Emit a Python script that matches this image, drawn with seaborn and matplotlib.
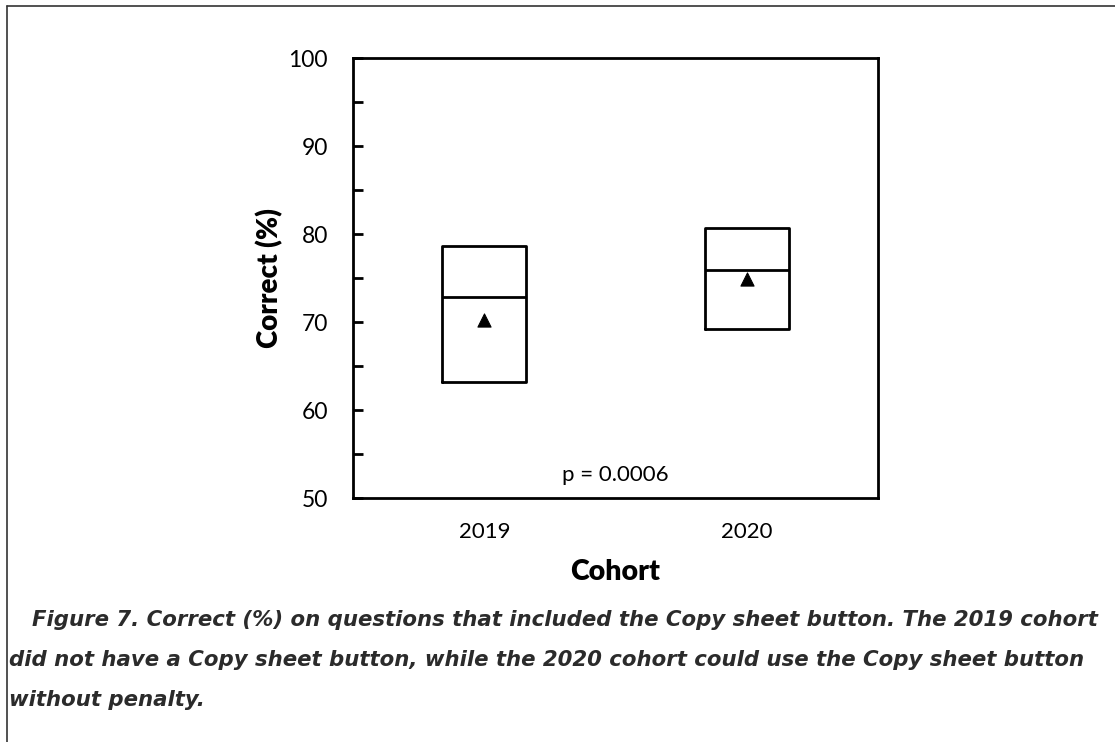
import matplotlib
matplotlib.use("Agg")
import matplotlib.pyplot as plt
from matplotlib.lines import Line2D
from matplotlib.ticker import MultipleLocator
import seaborn as sns
import pandas as pd

# values
cohorts = ["2019", "2020"]
q1 = [63.2, 69.2]
median = [72.8, 75.9]
q3 = [78.6, 80.7]
mean = [70.2, 74.9]
p_text = "p = 0.0006"
caption_lines = [
    "Figure 7. Correct (%) on questions that included the Copy sheet button. The 2019 cohort",
    "did not have a Copy sheet button, while the 2020 cohort could use the Copy sheet button",
    "without penalty.",
]

sns.set_style("white")
plt.rcParams["font.family"] = ["Lato", "DejaVu Sans"]
plt.rcParams["text.color"] = "black"
plt.rcParams["axes.labelcolor"] = "black"
plt.rcParams["xtick.color"] = "black"
plt.rcParams["ytick.color"] = "black"

# five points per cohort give exactly q1 / median / q3 to the box drawing
rows = []
for c, a, m, b in zip(cohorts, q1, median, q3):
    for v in (a, a, m, b, b):
        rows.append({"Cohort": c, "Correct": v})
df = pd.DataFrame(rows)
df_mean = pd.DataFrame({"Cohort": cohorts, "Correct": mean})

fig = plt.figure(figsize=(11.15, 7.42), dpi=100)
ax = fig.add_axes([0.3166, 0.3288, 0.4709, 0.593])

line_kw = dict(color="black", linewidth=2)
sns.boxplot(data=df, x="Cohort", y="Correct", order=cohorts, whis=0, width=0.32,
            showcaps=False, showfliers=False, fill=False, color="black",
            boxprops=line_kw, medianprops=line_kw,
            whiskerprops=dict(linewidth=0), ax=ax)
sns.scatterplot(data=df_mean, x="Cohort", y="Correct", marker="^", s=90,
                color="black", edgecolor="black", ax=ax, zorder=5)

ax.set_xlim(-0.5, 1.5)
ax.set_ylim(50, 100)
ax.yaxis.set_major_locator(MultipleLocator(10))
ax.yaxis.set_minor_locator(MultipleLocator(5))
ax.tick_params(axis="y", which="both", direction="in", length=7, width=2,
               left=True, labelsize=16.5, pad=18, colors="black")
ax.tick_params(axis="x", bottom=False, labelsize=16, pad=14, colors="black")
for s in ax.spines.values():
    s.set_visible(True)
    s.set_linewidth(2)
    s.set_color("black")

ax.set_xlabel("Cohort", fontsize=20.5, fontweight="heavy", labelpad=12)
ax.set_ylabel("Correct (%)", fontsize=20, fontweight="heavy", labelpad=4)
ax.text(0.5, 52.6, p_text, ha="center", va="center", fontsize=16)

# caption below the chart, first line indented
cap_x = [0.029, 0.008, 0.008]
cap_y = [0.164, 0.110, 0.056]
for txt, cx, cy in zip(caption_lines, cap_x, cap_y):
    fig.text(cx, cy, txt, ha="left", va="center", fontsize=15.3,
             fontweight="bold", style="italic", color="#2b2b2b",
             family=["DejaVu Sans"])

# page frame, top and left edges
fig.add_artist(Line2D([0.0063, 1.0], [0.992, 0.992], color="#333333", linewidth=1.2))
fig.add_artist(Line2D([0.0063, 0.0063], [0.0, 0.992], color="#333333", linewidth=1.2))

fig.savefig("out.png", dpi=100)
